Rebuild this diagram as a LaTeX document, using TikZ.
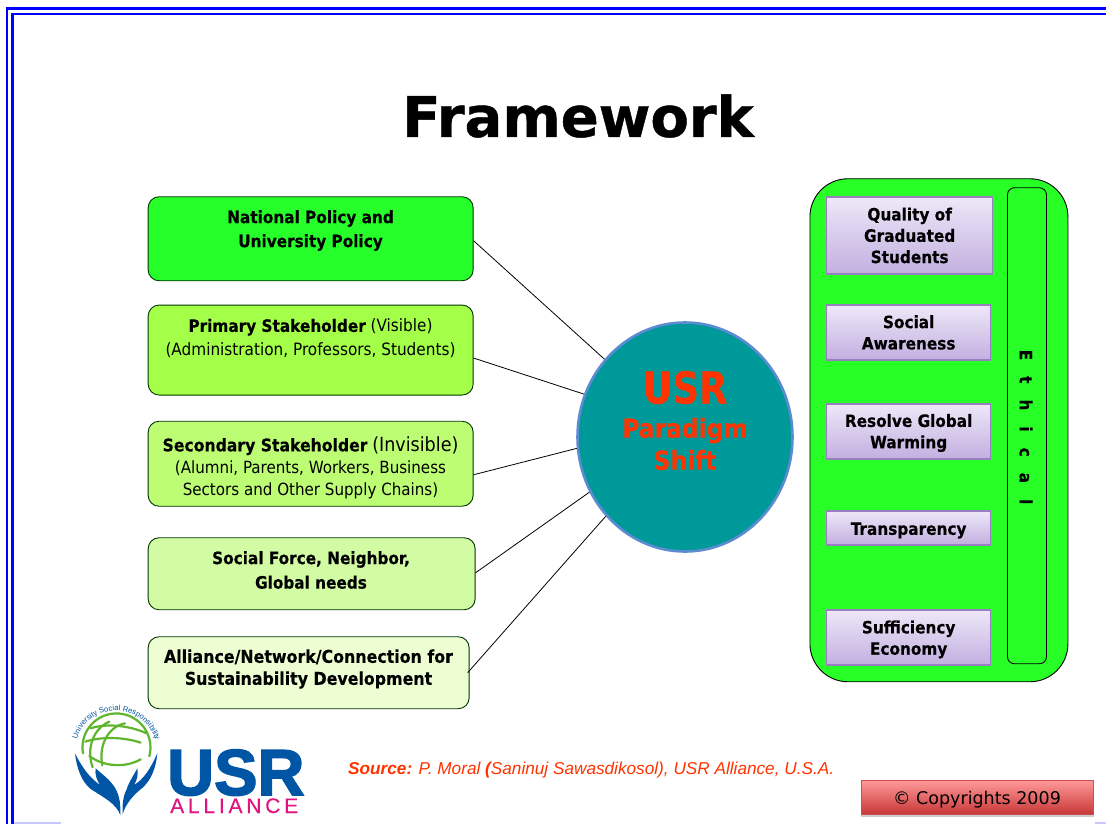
\documentclass[tikz,border=0pt]{standalone}
\usepackage{fontspec}
\usetikzlibrary{shapes.geometric,calc,decorations.text}
\setmainfont{DejaVu Sans Condensed}[BoldFont={DejaVu Sans Condensed Bold},BoldFeatures={FakeBold=0.3}]
\newfontfamily\titlefont[FakeBold=0.8]{DejaVu Sans Bold}
\newfontfamily\arialfont{Liberation Sans}
\newfontfamily\usrfont[FakeBold=2.5]{Liberation Sans Bold}
\newfontfamily\allfont[LetterSpace=18,FakeBold=0.3]{Liberation Sans}
\newfontfamily\plainfont{DejaVu Sans}
\definecolor{frameblue}{HTML}{0000FF}
\definecolor{gbig}{HTML}{27FF27}
\definecolor{g1}{HTML}{26FF2A}
\definecolor{g2}{HTML}{A4FF48}
\definecolor{g3}{HTML}{BDFD74}
\definecolor{g4}{HTML}{D2FCA4}
\definecolor{g5}{HTML}{EDFFD2}
\definecolor{teal1}{HTML}{009999}
\definecolor{tealedge}{HTML}{5B8BD0}
\definecolor{redtext}{HTML}{FF3300}
\definecolor{usrblue}{HTML}{0055A5}
\definecolor{usrgreen}{HTML}{5FB52C}
\definecolor{usrpink}{HTML}{E0147F}
\definecolor{lavender}{HTML}{C8C8FF}
\definecolor{purpletop}{HTML}{EEE8F8}
\definecolor{purplebot}{HTML}{C2AFE0}
\definecolor{purpleedge}{HTML}{9A7FC0}
\definecolor{redtop}{HTML}{FF9999}
\definecolor{redbot}{HTML}{C83737}
\definecolor{rededge}{HTML}{C85050}
\tikzset{
 leftbox/.style={draw=black!80!green,line width=.9pt,rounded corners=11pt,anchor=north west,inner sep=0pt},
 conn/.style={draw=black,line width=.8pt},
 lbl/.style={align=center,font=\fontsize{17}{22}\selectfont,text=black},
 plbl/.style={align=center,font=\fontsize{17}{21.3}\selectfont\bfseries,text=black},
}
\newcommand{\pbox}[7]{% name x y w h text labelshift
 \fill[gray!40] (#2,#3+#5) rectangle (#2+#4,#3+#5+1.5);
 \node[rectangle,draw=purpleedge,line width=1.3pt,top color=purpletop,bottom color=purplebot,anchor=north west,inner sep=0pt,minimum width=#4,minimum height=#5] (#1) at (#2,#3) {};
 \node[plbl] at ($(#1.center)+(0,#7)$) {#6};}
\begin{document}
\begin{tikzpicture}[x=1pt,y=-1pt]
\useasboundingbox (0,0) rectangle (1106,824);
\fill[white] (0,0) rectangle (1106,824);
% frame
\draw[frameblue,line width=2.6pt] (7,824) -- (7,8.7) -- (1106,8.7);
\draw[frameblue,line width=2.6pt] (12.2,824) -- (12.2,14.2) -- (1106,14.2);
\draw[lavender,line width=1.5pt] (14,823.2) -- (61,823.2);
\draw[lavender,line width=1.5pt] (1095,823.2) -- (1106,823.2);
% title
\node[font=\titlefont\fontsize{56}{60}\selectfont,text=black] (title) at (578,116) {Framework};
% left boxes
\node[leftbox,fill=g1,minimum width=325,minimum height=84] (b1) at (147.7,196.3) {};
\node[lbl] (t1) at (310.5,230.5) {\textbf{National Policy and}\\[2pt]\textbf{University Policy}};
\node[leftbox,fill=g2,minimum width=325,minimum height=90] (b2) at (147.7,304.6) {};
\node[lbl] (t2) at (310.5,338.5) {\textbf{Primary Stakeholder} (Visible)\\[2pt](Administration, Professors, Students)};
\node[leftbox,fill=g3,minimum width=325,minimum height=85] (b3) at (147.7,420.8) {};
\node[lbl,anchor=north] (t3) at (310.5,433) {{\fontsize{17.4}{22}\selectfont\textbf{Secondary Stakeholder}} {\fontsize{19.5}{22}\selectfont(Invisible)}\\{\fontsize{16.8}{21.5}\selectfont(Alumni, Parents, Workers, Business}\\{\fontsize{16.8}{21.5}\selectfont Sectors and Other Supply Chains)}};
\node[leftbox,fill=g4,minimum width=327,minimum height=72] (b4) at (147.7,537.3) {};
\node[lbl] (t4) at (311,570) {\textbf{Social Force, Neighbor,}\\[2.5pt]\textbf{Global needs}};
\node[leftbox,fill=g5,minimum width=321,minimum height=72] (b5) at (147.7,636.3) {};
\node[lbl,font=\fontsize{17.6}{22}\selectfont] (t5) at (308.5,669) {\textbf{Alliance/Network/Connection for}\\\textbf{Sustainability Development}};
% circle
\node[ellipse,draw=tealedge,fill=teal1,line width=2.6pt,minimum width=215,minimum height=229,inner sep=0pt] (usr) at (685,437) {};
\node[font=\bfseries\fontsize{44}{44}\selectfont,text=redtext] (usr1) at (685,387.5) {\scalebox{.93}[1]{USR}};
\node[font=\bfseries\fontsize{26}{32}\selectfont,text=redtext,align=center] (usr2) at (685,444) {Paradigm\\Shift};
% connectors
\draw[conn] ($(b1.east)+(0,2)$) -- (usr.136);
\draw[conn] ($(b2.east)+(0,8)$) -- (usr.157);
\draw[conn] ($(b3.east)+(0,11)$) -- (usr.186);
\draw[conn] ($(b4.east)+(0,-1)$) -- (usr.210);
\draw[conn] ($(b5.east)+(-2,0)$) -- (usr.225);
% right panel
\node[rectangle,draw=black,fill=gbig,line width=.9pt,rounded corners=38pt,anchor=north west,minimum width=258,minimum height=503,inner sep=0pt] (panel) at (809.5,178.3) {};
\node[rectangle,draw=black,line width=.9pt,rounded corners=7pt,anchor=north west,minimum width=39,minimum height=476,inner sep=0pt] (eth) at (1007,187.3) {};
\node[rotate=-90,font=\bfseries\fontsize{17}{18}\selectfont,text=black] (ethtext) at (1026,427) {\spaceskip=16pt E t h i c a l};
\pbox{p1}{826}{196.3}{166}{77}{Quality of\\Graduated\\Students}{0}
\pbox{p2}{826}{304.3}{164}{55}{Social\\Awareness}{0}
\pbox{p3}{826}{403.3}{164}{55}{Resolve Global\\Warming}{1.5}
\pbox{p4}{826}{510.3}{164}{34}{Transparency}{2.5}
\pbox{p5}{826}{609.3}{164}{55}{Sufficiency\\Economy}{2}
% source
\node[anchor=west,inner sep=0pt,font=\arialfont\itshape\fontsize{17.2}{18}\selectfont,text=redtext] (src) at (348,770.5) {\textbf{Source:} P. Moral \textbf{(}Saninuj Sawasdikosol), USR Alliance, U.S.A.};
% copyright
\fill[gray!40] (861,814) rectangle (1094,816.5);
\node[rectangle,draw=rededge,line width=1pt,top color=redtop,bottom color=redbot,anchor=north west,minimum width=232,minimum height=34,inner sep=0pt] (copy) at (861,779.8) {};
\node[font=\plainfont\fontsize{17.5}{20}\selectfont,text=black] (copyt) at (977,799.5) {© Copyrights 2009};
% logo, drawn in the coordinates of a 3x crop
\begin{scope}[shift={(50,690)},x=.3333pt,y=-.3333pt]
 \begin{scope}[usrgreen,line width=2.2pt,line cap=round]
  \draw (99,190) arc[start angle=190,end angle=-15,x radius=102,y radius=-102];
  \draw (122,115) .. controls (165,100) and (235,105) .. (290,130);
  \draw (106,155) .. controls (150,140) and (220,140) .. (272,158);
  \draw (118,198) .. controls (160,230) and (225,235) .. (272,208);
  \draw (178,95) .. controls (130,115) and (108,175) .. (128,232);
  \draw (225,100) .. controls (175,110) and (145,165) .. (157,226);
 \end{scope}
 \path[decorate,decoration={text along path,text align={center},text={|\arialfont\fontsize{7.6}{8}\selectfont\color{usrblue}|University Social Responsibility}}] (78,158) .. controls (92,95) and (145,62) .. (198,62) .. controls (255,62) and (305,100) .. (320,162);
 \fill[usrblue] (75,190) .. controls (80,235) and (95,275) .. (122,297) .. controls (160,322) and (198,340) .. (211,375) .. controls (212,345) and (210,320) .. (196,295) .. controls (180,268) and (155,252) .. (137,235) .. controls (134,252) and (140,270) .. (150,285) .. controls (130,270) and (105,250) .. (75,190) -- cycle;
 \fill[usrblue] (322,190) .. controls (318,235) and (303,270) .. (278,293) .. controls (250,315) and (228,340) .. (218,372) .. controls (217,345) and (218,322) .. (230,298) .. controls (237,275) and (252,255) .. (262,235) .. controls (265,252) and (262,270) .. (252,285) .. controls (280,268) and (300,240) .. (322,190) -- cycle;
\end{scope}
% wordmark
\node[anchor=base west,inner sep=0pt,font=\usrfont\fontsize{65}{65}\selectfont,text=usrblue] (usrw) at (167,795) {USR};
\node[anchor=base west,inner sep=0pt,font=\allfont\fontsize{21}{21}\selectfont,text=usrpink] (allw) at (170,813) {ALLIANCE};
\end{tikzpicture}
\end{document}
